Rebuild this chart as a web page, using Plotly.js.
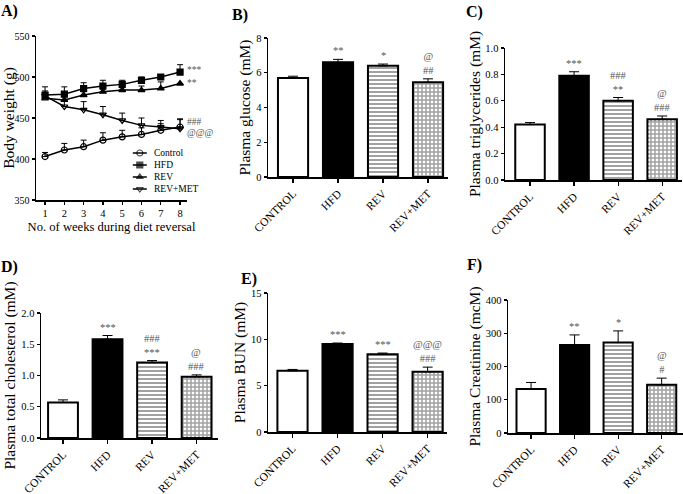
<!DOCTYPE html>
<html>
<head>
<meta charset="utf-8">
<script src="https://cdn.plot.ly/plotly-3.0.1.min.js"></script>
<style>html,body{margin:0;padding:0;background:#fff}#chart{width:683px;height:494px}</style>
</head>
<body>
<div id="chart"></div>
<script>
// ---------- data ----------
const weeks = [1, 2, 3, 4, 5, 6, 7, 8];
const seriesNames = ["Control", "HFD", "REV", "REV+MET"];
const bwControl = [403, 411, 415, 423, 427, 430, 435, 439];
const bwControlErr = [5, 8, 8, 9, 8, 8, 8, 9];
const bwHFD = [478, 479, 486, 489, 491, 496, 500, 506];
const bwHFDErr = [10, 9, 7, 7, 5, 4, 3, 9];
const bwREV = [474, 472, 478, 482, 484, 484, 486, 492];
const bwREVErr = [5, 5, 4, 3, 3, 5, 8, 0];
const bwREVMET = [477, 464, 460, 454, 447, 441, 439, 437];
const bwREVMETErr = [6, 8, 10, 10, 9, 9, 8, 12];

const groups = ["CONTROL", "HFD", "REV", "REV+MET"];
const glucose = [5.7, 6.6, 6.4, 5.45];
const glucoseErr = [0.1, 0.17, 0.1, 0.2];
const triglycerides = [0.42, 0.79, 0.60, 0.46];
const triglyceridesErr = [0.015, 0.03, 0.025, 0.025];
const cholesterol = [0.57, 1.58, 1.21, 0.98];
const cholesterolErr = [0.04, 0.06, 0.03, 0.03];
const bun = [6.6, 9.5, 8.4, 6.5];
const bunErr = [0.15, 0.1, 0.12, 0.5];
const creatinine = [132, 265, 272, 145];
const creatinineErr = [20, 30, 35, 20];

const sigB = ["", "**", "*", "@<br>##"];
const sigC = ["", "***", "###<br>**", "@<br>###"];
const sigD = ["", "***", "###<br>***", "@<br>###"];
const sigE = ["", "***", "***", "@@@<br>###"];
const sigF = ["", "**", "*", "@<br>#"];

// ---------- styling ----------
const FONT = "Liberation Serif, Times New Roman, serif";
const W = 683, H = 494;
const px = v => v / W;
const py = v => 1 - v / H;
const symbols = ["circle-open", "square", "triangle-up", "triangle-down-open"];

function lineTrace(k, y, err) {
  return {
    type: "scatter", mode: "lines+markers", name: seriesNames[k], x: weeks, y: y,
    xaxis: "x", yaxis: "y", showlegend: false,
    line: {color: "#000", width: 1.5},
    marker: {symbol: symbols[k], size: 6, color: "#000", line: {color: "#000", width: 1.2}},
    error_y: {type: "data", symmetric: false, array: err, arrayminus: err.map(() => 0),
              color: "#000", thickness: 1, width: 3}
  };
}

// compact legend drawn on its own small axis pair (item k at row 3.5-k)
function legendTrace(k) {
  return {
    type: "scatter", mode: "lines+markers", name: seriesNames[k],
    x: [0.04, 0.14, 0.24], y: [3.5 - k, 3.5 - k, 3.5 - k],
    xaxis: "x7", yaxis: "y7", showlegend: false, hoverinfo: "skip",
    line: {color: "#000", width: 1.5},
    marker: {symbol: symbols[k], size: [0, 6, 0], color: "#000", line: {color: "#000", width: 1.2}}
  };
}

function barTrace(vals, errs, n) {
  return {
    type: "bar", x: groups, y: vals, width: 0.67, showlegend: false,
    xaxis: "x" + n, yaxis: "y" + n,
    marker: {
      color: ["#fff", "#000", "#fff", "#fff"],
      line: {color: "#000", width: 2},
      pattern: {shape: ["", "", "-", "+"], size: 4, solidity: [0.5, 0.5, 0.5, 0.62],
                fgcolor: "#000", fillmode: "overlay"}
    },
    error_y: {type: "data", symmetric: false, array: errs, arrayminus: errs.map(() => 0),
              color: "#000", thickness: 1, width: 5}
  };
}

const traces = [
  lineTrace(0, bwControl, bwControlErr),
  lineTrace(1, bwHFD, bwHFDErr),
  lineTrace(2, bwREV, bwREVErr),
  lineTrace(3, bwREVMET, bwREVMETErr),
  legendTrace(0), legendTrace(1), legendTrace(2), legendTrace(3),
  barTrace(glucose, glucoseErr, 2),
  barTrace(triglycerides, triglyceridesErr, 3),
  barTrace(cholesterol, cholesterolErr, 4),
  barTrace(bun, bunErr, 5),
  barTrace(creatinine, creatinineErr, 6)
];

const tickFont = {family: FONT, size: 10.5, color: "#000"};
const titleFont = {family: FONT, size: 15.5, color: "#000"};

function baseAxis(extra) {
  return Object.assign({
    showline: true, linecolor: "#000", linewidth: 1.5, mirror: false,
    ticks: "outside", ticklen: 3, tickwidth: 1.2, tickcolor: "#000",
    showgrid: false, zeroline: false, tickfont: tickFont, fixedrange: true
  }, extra);
}

function xBar(d0, d1, r0, r1, anchor) {
  return baseAxis({domain: [px(d0), px(d1)], range: [r0, r1], anchor: anchor,
                   type: "category", tickangle: -45, ticklen: 4,
                   tickfont: {family: FONT, size: 11.5, color: "#000"}});
}
function yBar(d0, d1, range, dtick, fmt, title, anchor, standoff) {
  return baseAxis({domain: [py(d1), py(d0)], range: range, dtick: dtick, tickformat: fmt,
                   anchor: anchor, title: {text: title, font: titleFont, standoff: standoff}});
}

const layout = {
  width: W, height: H,
  margin: {l: 0, r: 0, t: 0, b: 0},
  paper_bgcolor: "#fff", plot_bgcolor: "rgba(0,0,0,0)",
  font: {family: FONT, color: "#000"},
  showlegend: false,
  xaxis: baseAxis({domain: [px(36), px(187)], range: [0.53, 8.36], anchor: "y",
                   tickvals: weeks,
                   title: {text: "No. of weeks during diet reversal", font: {family: FONT, size: 12.6, color: "#000"}, standoff: 4}}),
  yaxis: baseAxis({domain: [py(200), py(36)], range: [350, 550], dtick: 50, anchor: "x",
                   tickfont: {family: FONT, size: 10, color: "#000"},
                   title: {text: "Body weight (g)", font: titleFont, standoff: 3}}),
  xaxis2: xBar(268, 448, -0.556, 3.444, "y2"),
  yaxis2: yBar(38, 177, [0, 8], 2, "", "Plasma glucose (mM)", "x2", 1),
  xaxis3: xBar(505, 682, -0.568, 3.45, "y3"),
  yaxis3: yBar(48, 180, [0, 1.0], 0.2, ".1f", "Plasma triglycerides (mM)", "x3", 1),
  xaxis4: xBar(41, 218, -0.494, 3.48, "y4"),
  yaxis4: yBar(313, 438, [0, 2.0], 0.5, ".1f", "Plasma total cholesterol (mM)", "x4", 2),
  xaxis5: xBar(268, 447, -0.544, 3.43, "y5"),
  yaxis5: yBar(293, 432, [0, 15], 5, "", "Plasma BUN (mM)", "x5", 1),
  xaxis6: xBar(508, 683, -0.53, 3.49, "y6"),
  yaxis6: yBar(300, 433, [0, 400], 100, "", "Plasma Creatinine (mcM)", "x6", 1),
  xaxis7: {domain: [px(130), px(200)], range: [0, 1], anchor: "y7", visible: false, fixedrange: true},
  yaxis7: {domain: [py(195), py(147)], range: [0, 4], anchor: "x7", visible: false, fixedrange: true},
  annotations: []
};

// legend labels
seriesNames.forEach((name, k) => layout.annotations.push({
  text: name, xref: "x7", yref: "y7", x: 0.31, y: 3.5 - k, xanchor: "left", yanchor: "middle",
  showarrow: false, font: {family: FONT, size: 9.5, color: "#000"}
}));

// panel letters
const letters = [["A)", 9, 11], ["B)", 240, 15], ["C)", 474, 12], ["D)", 9, 267], ["E)", 249, 279], ["F)", 474, 265]];
letters.forEach(([t, x, y]) => layout.annotations.push({
  text: "<b>" + t + "</b>", xref: "paper", yref: "paper", x: px(x), y: py(y),
  xanchor: "center", yanchor: "middle", showarrow: false,
  font: {family: FONT, size: 16, color: "#000"}
}));

// significance marks on bars
const sigColor = "#555";
function addSig(sig, vals, errs, n) {
  sig.forEach((s, i) => {
    if (!s) return;
    layout.annotations.push({
      text: s, xref: "x" + n, yref: "y" + n, x: groups[i], y: vals[i] + errs[i],
      xanchor: "center", yanchor: "bottom", showarrow: false, yshift: 1,
      font: {family: FONT, size: 10.5, color: sigColor}
    });
  });
}
addSig(sigB, glucose, glucoseErr, 2);
addSig(sigC, triglycerides, triglyceridesErr, 3);
addSig(sigD, cholesterol, cholesterolErr, 4);
addSig(sigE, bun, bunErr, 5);
addSig(sigF, creatinine, creatinineErr, 6);

// significance marks on panel A
const sigA = [["***", 508], ["**", 493], ["###", 445], ["@@@", 432]];
sigA.forEach(([t, y]) => layout.annotations.push({
  text: t, xref: "x", yref: "y", x: 8, y: y, xanchor: "left", yanchor: "middle",
  xshift: 5, showarrow: false, font: {family: FONT, size: 9.5, color: sigColor}
}));

Plotly.newPlot("chart", traces, layout, {staticPlot: true, displayModeBar: false});
</script>
</body>
</html>
